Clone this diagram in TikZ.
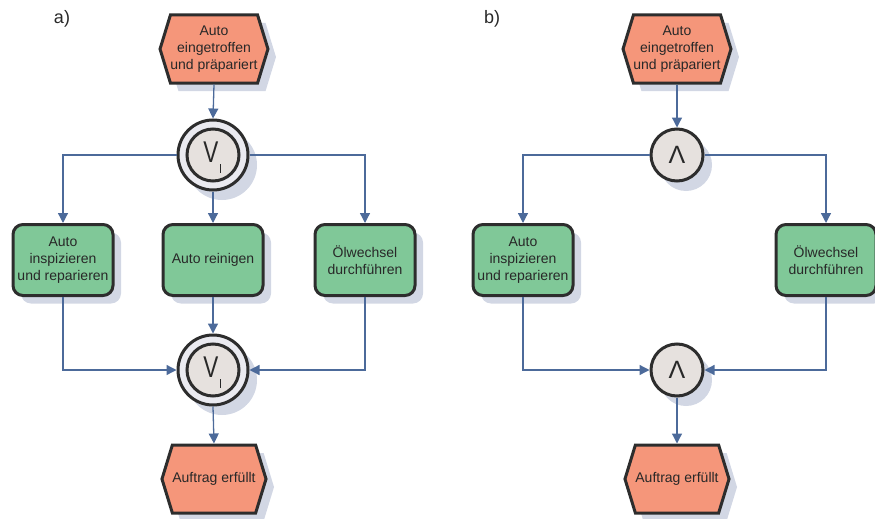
\documentclass[tikz,border=0pt]{standalone}
\usepackage{fontspec}
\setmainfont{Liberation Sans}
\usetikzlibrary{shapes.symbols,shadows,arrows.meta}
\definecolor{evfill}{RGB}{245,150,122}
\definecolor{fnfill}{RGB}{128,200,152}
\definecolor{edge}{RGB}{45,45,45}
\definecolor{flow}{RGB}{76,106,154}
\definecolor{shade}{RGB}{210,215,228}
\definecolor{conin}{RGB}{230,225,222}
\definecolor{conring}{RGB}{234,234,240}
\definecolor{ink}{RGB}{40,40,40}
\tikzset{
  x=1pt, y=-1pt,
  boxshadow/.style={drop shadow={shadow xshift=8pt, shadow yshift=-8pt, fill=shade, opacity=1}},
  event/.style={signal, signal to=east and west, signal pointer angle=146,
    minimum width=103pt, minimum height=68pt, inner sep=0pt,
    fill=evfill, draw=edge, line width=3pt, boxshadow,
    align=center, font=\fontsize{14}{17}\selectfont, text=ink},
  func/.style={rectangle, rounded corners=10pt, minimum width=100pt, minimum height=71pt,
    inner sep=0pt, fill=fnfill, draw=edge, line width=3pt, boxshadow,
    align=center, font=\fontsize{14}{17}\selectfont, text=ink},
  xorring/.style={circle, minimum size=70pt, inner sep=0pt, fill=conring, draw=edge,
    line width=3pt, drop shadow={shadow xshift=9pt, shadow yshift=-10pt, fill=shade, opacity=1}},
  xorcore/.style={circle, minimum size=52pt, inner sep=0pt, fill=conin, draw=edge,
    line width=3pt},
  andc/.style={circle, minimum size=52pt, inner sep=0pt, fill=conin, draw=edge,
    line width=3pt, drop shadow={shadow xshift=9pt, shadow yshift=-10pt, fill=shade, opacity=1}},
  opsym/.style={inner sep=0pt, text=ink, font=\fontsize{30}{30}\selectfont},
  andsym/.style={inner sep=0pt, text=ink, font=\fontsize{25}{25}\selectfont},
  flowline/.style={draw=flow, line width=1.3pt},
  flowarrow/.style={flowline, -{Triangle[length=10pt,width=10pt]}},
  tag/.style={inner sep=0pt, text=ink, font=\fontsize{18}{18}\selectfont}
}
\begin{document}
\begin{tikzpicture}
\useasboundingbox (0,0) rectangle (875,519);

% ---- a) XOR variant ----
\node[tag] (ta) at (62,19) {a)};
\node[event] (ae1) at (214,49) {Auto\\eingetroffen\\und präpariert};
\node[xorring] (ax1) at (213,155) {};
\node[xorcore] (ax1c) at (ax1) {};
\node[opsym] (ax1v) at (211,152) {\scalebox{0.75}[1]{V}};
\draw[ink, line width=1pt] ([xshift=9pt,yshift=-10pt]ax1v.south) -- ([xshift=9pt,yshift=-1pt]ax1v.south);
\node[func] (af1) at (63,260) {Auto\\inspizieren\\und reparieren};
\node[func] (af2) at (213,260) {Auto reinigen};
\node[func] (af3) at (365,260) {Ölwechsel\\durchführen};
\node[xorring] (ax2) at (213,370) {};
\node[xorcore] (ax2c) at (ax2) {};
\node[opsym] (ax2v) at (211,367) {\scalebox{0.75}[1]{V}};
\draw[ink, line width=1pt] ([xshift=9pt,yshift=-10pt]ax2v.south) -- ([xshift=9pt,yshift=-1pt]ax2v.south);
\node[event] (ae2) at (214,479) {Auftrag erfüllt};

\draw[flowarrow] (ae1.south) -- (ax1.north);
\draw[flowarrow] (ax1.west) -| (af1.north);
\draw[flowarrow] (ax1.east) -| (af3.north);
\draw[flowarrow] (ax1.south) -- (af2.north);
\draw[flowarrow] (af1.south) |- (ax2.west);
\draw[flowarrow] (af3.south) |- (ax2.east);
\draw[flowarrow] (af2.south) -- (ax2.north);
\draw[flowarrow] (ax2.south) -- (ae2.north);

% ---- b) AND variant ----
\node[tag] (tb) at (492,19) {b)};
\node[event] (be1) at (677,49) {Auto\\eingetroffen\\und präpariert};
\node[andc] (bx1) at (677,155) {};
\node[andsym] (bx1v) at (677,155) {Λ};
\node[func] (bf1) at (523,260) {Auto\\inspizieren\\und reparieren};
\node[func] (bf3) at (826,260) {Ölwechsel\\durchführen};
\node[andc] (bx2) at (677,370) {};
\node[andsym] (bx2v) at (677,370) {Λ};
\node[event] (be2) at (677,479) {Auftrag erfüllt};

\draw[flowarrow] (be1.south) -- (bx1.north);
\draw[flowarrow] (bx1.west) -| (bf1.north);
\draw[flowarrow] (bx1.east) -| (bf3.north);
\draw[flowarrow] (bf1.south) |- (bx2.west);
\draw[flowarrow] (bf3.south) |- (bx2.east);
\draw[flowarrow] (bx2.south) -- (be2.north);
\end{tikzpicture}
\end{document}
